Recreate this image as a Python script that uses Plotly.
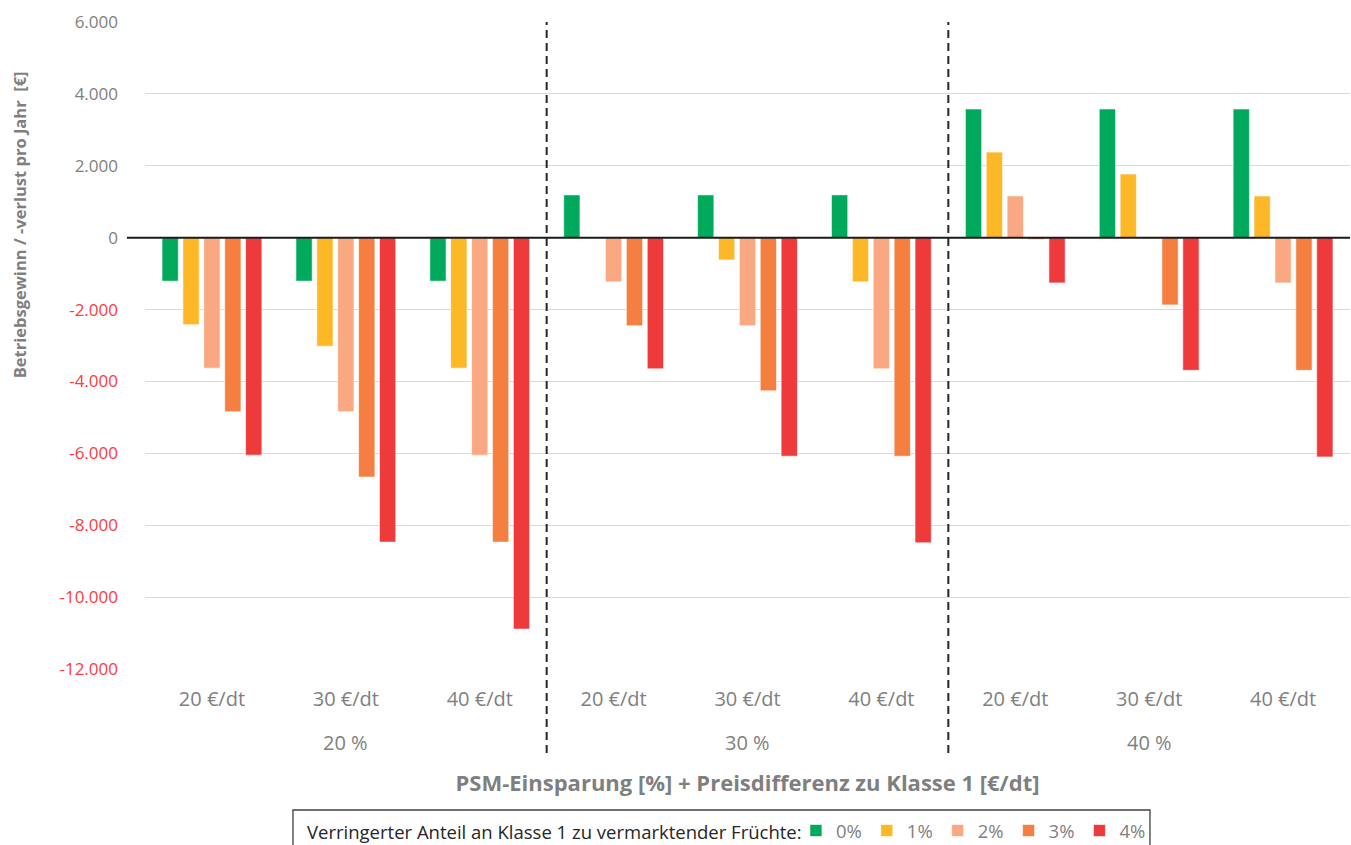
import plotly.graph_objects as go

# Categories: PSM savings (outer) and price difference to class 1 (inner)
outer = ["20 %"] * 3 + ["30 %"] * 3 + ["40 %"] * 3
inner = ["20 €/dt", "30 €/dt", "40 €/dt"] * 3
group_labels = ["20 %", "30 %", "40 %"]

# Operating profit / loss per year [€] by reduced share of class-1 fruit
series_names = ["0%", "1%", "2%", "3%", "4%"]
v0 = [-1210, -1210, -1210, 1190, 1190, 1190, 3580, 3580, 3580]
v1 = [-2420, -3020, -3630, 0, -620, -1230, 2380, 1770, 1160]
v2 = [-3630, -4840, -6050, -1230, -2450, -3650, 1160, -30, -1260]
v3 = [-4840, -6660, -8470, -2450, -4260, -6080, -50, -1870, -3690]
v4 = [-6050, -8470, -10890, -3650, -6080, -8490, -1260, -3690, -6100]
series_values = [v0, v1, v2, v3, v4]
colors = ["#00A95C", "#FDB827", "#F9A882", "#F47F40", "#EF3A3C"]

tickvals = [6000, 4000, 2000, 0, -2000, -4000, -6000, -8000, -10000, -12000]


def de_fmt(v):
    s = f"{abs(v):,}".replace(",", ".")
    return ("-" if v < 0 else "") + s


ticktext = [
    f'<span style="color:#FF3B3B">{de_fmt(v)}</span>' if v < 0 else de_fmt(v)
    for v in tickvals
]

# one unique category key per (group, price) pair
cats = [f"{o} | {i}" for o, i in zip(outer, inner)]

FONT = "Open Sans"
GREY = "#7F7F7F"

fig = go.Figure()
for name, vals, col in zip(series_names, series_values, colors):
    fig.add_trace(go.Bar(
        x=cats, y=vals, name=name,
        marker=dict(color=col, line=dict(color="rgba(255,255,255,0.6)", width=1)),
    ))

fig.update_layout(
    width=1351, height=845,
    margin=dict(l=145, r=1, t=22, b=176),
    paper_bgcolor="white", plot_bgcolor="white",
    barmode="group", bargap=0.22, bargroupgap=0.22,
    font=dict(family=FONT, color=GREY, size=17),
    showlegend=True,
    legend=dict(
        orientation="h", x=0.5402, xanchor="left",
        yref="container", y=0.0166, yanchor="middle",
        borderwidth=0, bgcolor="rgba(0,0,0,0)",
        font=dict(family=FONT, size=18.5, color=GREY),
        itemwidth=30,
    ),
)

fig.update_yaxes(
    range=[-12000, 6000], tickvals=tickvals, ticktext=ticktext,
    showgrid=True, gridcolor="#D9D9D9", gridwidth=1,
    zeroline=False, showline=False, ticks="", ticklabelstandoff=26,
    tickfont=dict(family=FONT, size=17, color=GREY), automargin=False,
)
fig.update_xaxes(
    type="category", tickvals=cats, ticktext=inner,
    showgrid=False, showline=False, ticks="", ticklabelstandoff=16,
    tickfont=dict(family=FONT, size=20, color=GREY), automargin=False,
    title=dict(text="<b>PSM-Einsparung [%] + Preisdifferenz zu Klasse 1 [€/dt]</b>",
               font=dict(family=FONT, size=22, color=GREY), standoff=64),
)

# group labels under the middle price of each group
for k, g in enumerate(group_labels):
    fig.add_annotation(
        text=g, x=cats[3 * k + 1], xref="x", y=-0.113, yref="paper",
        yanchor="middle", showarrow=False, font=dict(family=FONT, size=20, color=GREY),
    )

# legend caption in front of the entries
fig.add_annotation(
    text="Verringerter Anteil an Klasse 1 zu vermarktender Früchte:",
    xref="paper", yref="paper", x=0.1328, y=-0.2504, xanchor="left", yanchor="middle",
    showarrow=False, font=dict(family=FONT, size=18.5, color="#262626"),
)

# zero line, reaching slightly left of the plot area
fig.add_shape(type="line", xref="paper", yref="y", x0=-0.015, x1=1, y0=0, y1=0,
              line=dict(color="#1A1A1A", width=2), layer="above")

# dashed separators between PSM groups
for xb in (2.5, 5.5):
    fig.add_shape(type="line", xref="x", yref="paper", x0=xb, x1=xb, y0=-0.13, y1=1,
                  line=dict(color="#262626", width=2, dash="8px,5px"), layer="above")

# frame around the legend, open past the bottom edge of the page
fig.add_shape(type="rect", xref="paper", yref="paper",
              x0=0.1228, x1=0.834, y0=-0.2179, y1=-0.30,
              line=dict(color="#404040", width=1.3), fillcolor="rgba(0,0,0,0)")

# y-axis title
fig.add_annotation(
    text="<b>Betriebsgewinn / -verlust pro Jahr  [€]</b>",
    xref="paper", yref="paper", x=-0.1045, y=0.686, xanchor="center", yanchor="middle",
    textangle=-90, showarrow=False, font=dict(family=FONT, size=16.5, color=GREY),
)

fig.write_html("out.html")
